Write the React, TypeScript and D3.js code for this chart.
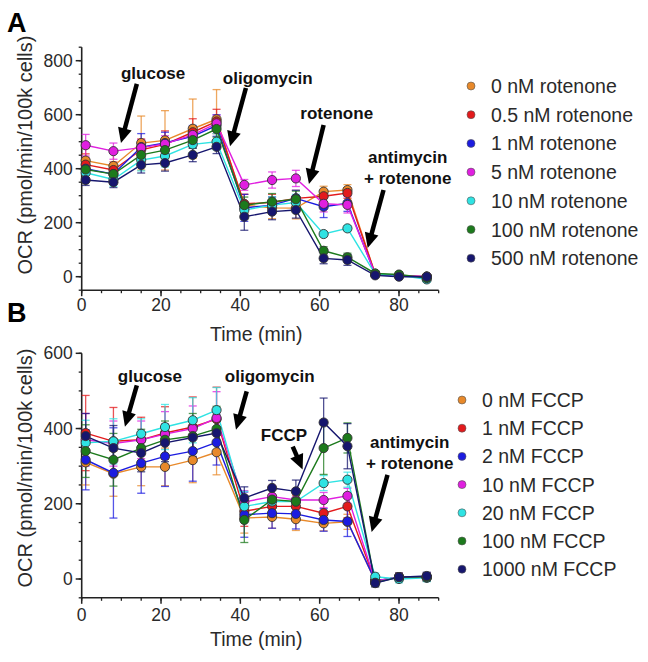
import React from 'react';
import * as d3 from 'd3';

const times = [1, 8, 15, 21, 28, 34, 41, 48, 54, 61, 67, 74, 80, 87];

const colors = ['#e8892a', '#e31a1c', '#1c1ce0', '#e01fe0', '#2fe3e3', '#1c7a1c', '#16166e'];

// Panel A – rotenone titration
const rotLabels = ['0 nM rotenone', '0.5 nM rotenone', '1 nM rotenone', '5 nM rotenone', '10 nM rotenone', '100 nM rotenone', '500 nM rotenone'];
const rot0 = [430, 410, 495, 505, 548, 583, 265, 255, 254, 315, 321, 10, 5, 0];
const rot05 = [415, 395, 470, 490, 535, 575, 270, 275, 290, 298, 310, 10, 5, 0];
const rot1 = [400, 380, 480, 495, 520, 560, 255, 265, 290, 259, 272, 8, 3, 0];
const rot5 = [487, 465, 478, 492, 525, 568, 340, 358, 364, 270, 266, 10, 5, 0];
const rot10 = [385, 360, 432, 447, 490, 500, 247, 265, 275, 158, 179, 10, 5, -10];
const rot100 = [397, 380, 451, 469, 506, 547, 265, 278, 287, 96, 72, 12, 8, -5];
const rot500 = [358, 350, 414, 421, 451, 481, 222, 241, 247, 68, 62, 5, 0, 0];
const rotSeries = [rot0, rot05, rot1, rot5, rot10, rot100, rot500];
const rot0Err = [45, 60, 100, 110, 110, 110, 40, 40, 40, 20, 20, 10, 10, 10];
const rot05Err = [40, 30, 40, 50, 50, 45, 35, 30, 30, 20, 20, 10, 8, 8];
const rot1Err = [40, 30, 50, 40, 40, 40, 50, 30, 30, 40, 30, 8, 8, 8];
const rot5Err = [40, 30, 30, 30, 30, 30, 20, 30, 30, 30, 30, 8, 8, 8];
const rot10Err = [30, 25, 40, 40, 30, 30, 30, 30, 30, 10, 10, 10, 10, 10];
const rot100Err = [30, 30, 40, 40, 30, 30, 30, 30, 30, 15, 15, 10, 10, 10];
const rot500Err = [20, 20, 30, 30, 25, 25, 50, 30, 30, 20, 20, 8, 8, 8];
const rotErrors = [rot0Err, rot05Err, rot1Err, rot5Err, rot10Err, rot100Err, rot500Err];

// Panel B – FCCP titration
const fccpLabels = ['0 nM FCCP', '1 nM FCCP', '2 nM FCCP', '10 nM FCCP', '20 nM FCCP', '100 nM FCCP', '1000 nM FCCP'];
const fccp0 = [310, 280, 298, 298, 316, 337, 162, 165, 159, 148, 152, -5, 5, 5];
const fccp1 = [388, 366, 370, 388, 404, 425, 180, 193, 193, 175, 193, -5, 5, 5];
const fccp2 = [317, 282, 308, 326, 340, 363, 171, 175, 173, 157, 153, -5, 5, 5];
const fccp10 = [370, 360, 370, 385, 400, 428, 205, 219, 210, 210, 221, -5, 5, 5];
const fccp20 = [362, 366, 386, 404, 422, 449, 193, 206, 206, 255, 264, 6, 0, 3];
const fccp100 = [340, 317, 348, 370, 380, 399, 157, 211, 206, 348, 375, -10, 5, 5];
const fccp1000 = [380, 348, 335, 362, 376, 388, 215, 242, 233, 416, 353, -11, 5, 8];
const fccpSeries = [fccp0, fccp1, fccp2, fccp10, fccp20, fccp100, fccp1000];
const fccp0Err = [60, 60, 50, 50, 60, 60, 40, 30, 30, 20, 20, 10, 10, 10];
const fccp1Err = [100, 90, 60, 70, 80, 85, 40, 30, 30, 30, 30, 10, 10, 10];
const fccp2Err = [80, 120, 80, 80, 80, 60, 60, 40, 40, 30, 40, 10, 10, 10];
const fccp10Err = [70, 60, 50, 60, 60, 70, 30, 30, 30, 20, 20, 10, 10, 10];
const fccp20Err = [60, 60, 40, 60, 60, 60, 40, 30, 30, 20, 20, 10, 10, 10];
const fccp100Err = [70, 70, 50, 50, 60, 60, 60, 30, 30, 70, 40, 10, 10, 10];
const fccp1000Err = [60, 60, 50, 50, 50, 50, 30, 20, 30, 65, 60, 10, 10, 10];
const fccpErrors = [fccp0Err, fccp1Err, fccp2Err, fccp10Err, fccp20Err, fccp100Err, fccp1000Err];

const xTicks = [0, 20, 40, 60, 80];
const yTicksA = [0, 200, 400, 600, 800];
const yTicksB = [0, 200, 400, 600];

// annotations in data coordinates: label lines, label position, arrow start/end
const annotA = [
  { lines: ['glucose'], t: 18, v: 732, a: [13.9, 714, 9.9, 495] },
  { lines: ['oligomycin'], t: 46.9, v: 713, a: [41.4, 699, 37.4, 483] },
  { lines: ['rotenone'], t: 64.3, v: 584, a: [61, 562, 57.3, 343] },
  { lines: ['antimycin', '+ rotenone'], t: 82.2, v: 421, a: [76.1, 321, 72.1, 106] },
];
const annotB = [
  { lines: ['glucose'], t: 17.2, v: 525, a: [13.9, 515, 10.9, 405] },
  { lines: ['oligomycin'], t: 47.4, v: 525, a: [41.6, 499, 38.9, 397] },
  { lines: ['FCCP'], t: 51, v: 368, a: [53.2, 352, 55.7, 291] },
  { lines: ['antimycin', '+ rotenone'], t: 82.7, v: 347, a: [77.1, 277, 73.1, 125] },
];

const FONT = 'Liberation Sans, Arial, Helvetica, sans-serif';
const TXT = '#2a2a2a';

function Arrow({ x1, y1, x2, y2 }: { x1: number; y1: number; x2: number; y2: number }) {
  const ang = Math.atan2(y2 - y1, x2 - x1);
  const hl = 15;
  const hw = 7;
  const bx = x2 - hl * Math.cos(ang);
  const by = y2 - hl * Math.sin(ang);
  const px = -Math.sin(ang);
  const py = Math.cos(ang);
  const pts = [
    [x2, y2],
    [bx + hw * px, by + hw * py],
    [bx - hw * px, by - hw * py],
  ];
  return (
    <g>
      <line x1={x1} y1={y1} x2={bx + 1 * Math.cos(ang)} y2={by + 1 * Math.sin(ang)} stroke="#000" strokeWidth={4.5} />
      <polygon points={pts.map((p) => p.join(',')).join(' ')} fill="#000" />
    </g>
  );
}

function Panel(props: any) {
  const { x, y, yTicks, yMin, yMax, series, errors, labels, annots, letter, letterY, legendX, legendY, legendStep, titleY, xLabelY, yTitleY } = props;
  const yMinor = d3.range(yMin, yMax + 1, 50);
  const xMinor = d3.range(0, 91, 5);
  const line = d3
    .line<number>()
    .x((_, i) => x(times[i]))
    .y((d) => y(d));
  const x0 = x(0);
  const yb = y(yMin);
  return (
    <g fontFamily={FONT}>
      <text x={7} y={letterY} fontSize={27} fontWeight="bold" fill="#000">
        {letter}
      </text>
      {/* y axis */}
      <line x1={x0} x2={x0} y1={y(yMax)} y2={yb + 1} stroke="#222" strokeWidth={1.6} />
      {yMinor.map((v: number) => (
        <line key={'ym' + v} x1={x0 - 3} x2={x0} y1={y(v)} y2={y(v)} stroke="#222" strokeWidth={1.3} />
      ))}
      {yTicks.map((v: number) => (
        <g key={'y' + v}>
          <line x1={x0 - 6} x2={x0} y1={y(v)} y2={y(v)} stroke="#222" strokeWidth={1.5} />
          <text x={x0 - 9} y={y(v) + 6} fontSize={17.5} textAnchor="end" fill={TXT}>
            {v}
          </text>
        </g>
      ))}
      {/* x axis */}
      <line x1={x0} x2={x(90)} y1={yb} y2={yb} stroke="#222" strokeWidth={1.6} />
      {xMinor.map((t: number) => (
        <line key={'xm' + t} x1={x(t)} x2={x(t)} y1={yb} y2={yb + 3} stroke="#222" strokeWidth={1.3} />
      ))}
      {xTicks.map((t) => (
        <g key={'x' + t}>
          <line x1={x(t)} x2={x(t)} y1={yb} y2={yb + 6} stroke="#222" strokeWidth={1.5} />
          <text x={x(t)} y={xLabelY} fontSize={17.5} textAnchor="middle" fill={TXT}>
            {t}
          </text>
        </g>
      ))}
      <text x={(x(0) + x(90)) / 2 - 4} y={titleY} fontSize={19.5} textAnchor="middle" fill={TXT}>
        Time (min)
      </text>
      <text transform={`translate(32,${yTitleY}) rotate(-90)`} fontSize={20} textAnchor="middle" fill={TXT}>
        OCR (pmol/min/100k cells)
      </text>
      {/* error bars */}
      {series.map((s: number[], si: number) => (
        <g key={'e' + si} stroke={colors[si]} strokeOpacity={0.75} strokeWidth={1.3}>
          {s.map((v, i) => {
            const e = errors[si][i];
            const cx = x(times[i]);
            return (
              <g key={i}>
                <line x1={cx} x2={cx} y1={y(v - e)} y2={y(v + e)} />
                <line x1={cx - 4} x2={cx + 4} y1={y(v + e)} y2={y(v + e)} />
                <line x1={cx - 4} x2={cx + 4} y1={y(v - e)} y2={y(v - e)} />
              </g>
            );
          })}
        </g>
      ))}
      {/* lines */}
      {series.map((s: number[], si: number) => (
        <path key={'l' + si} d={line(s) || ''} fill="none" stroke={colors[si]} strokeWidth={1.4} />
      ))}
      {/* points */}
      {series.map((s: number[], si: number) => (
        <g key={'p' + si}>
          {s.map((v, i) => (
            <circle key={i} cx={x(times[i])} cy={y(v)} r={4.6} fill={colors[si]} stroke="#333" strokeWidth={0.9} />
          ))}
        </g>
      ))}
      {/* annotations */}
      {annots.map((a: any, ai: number) => (
        <g key={'a' + ai}>
          {a.lines.map((ln: string, li: number) => (
            <text key={li} x={x(a.t)} y={y(a.v) + li * 21} fontSize={17} fontWeight="bold" textAnchor="middle" fill="#111">
              {ln}
            </text>
          ))}
          <Arrow x1={x(a.a[0])} y1={y(a.a[1])} x2={x(a.a[2])} y2={y(a.a[3])} />
        </g>
      ))}
      {/* legend */}
      {labels.map((lb: string, li: number) => (
        <g key={'lg' + li}>
          <circle cx={legendX} cy={legendY + li * legendStep} r={4} fill={colors[li]} stroke="#555" strokeWidth={0.6} />
          <text x={legendX + 20} y={legendY + li * legendStep + 7} fontSize={19.5} fill={TXT}>
            {lb}
          </text>
        </g>
      ))}
    </g>
  );
}

export default function App() {
  const x = d3.scaleLinear().domain([0, 80]).range([81.7, 399]);
  const yA = d3.scaleLinear().domain([0, 800]).range([276.7, 60.7]);
  const yB = d3.scaleLinear().domain([0, 600]).range([579, 353.3]);
  return (
    <svg width={648} height={662} style={{ position: 'absolute', left: 0, top: 0, background: '#fff' }}>
      <rect width={648} height={662} fill="#fff" />
      <Panel
        x={x}
        y={yA}
        yTicks={yTicksA}
        yMin={-50}
        yMax={850}
        series={rotSeries}
        errors={rotErrors}
        labels={rotLabels}
        annots={annotA}
        letter="A"
        letterY={32}
        legendX={471}
        legendY={86}
        legendStep={28.7}
        titleY={341}
        xLabelY={311}
        yTitleY={155}
      />
      <Panel
        x={x}
        y={yB}
        yTicks={yTicksB}
        yMin={-50}
        yMax={600}
        series={fccpSeries}
        errors={fccpErrors}
        labels={fccpLabels}
        annots={annotB}
        letter="B"
        letterY={322}
        legendX={462}
        legendY={400}
        legendStep={28.2}
        titleY={646}
        xLabelY={621}
        yTitleY={468}
      />
    </svg>
  );
}
